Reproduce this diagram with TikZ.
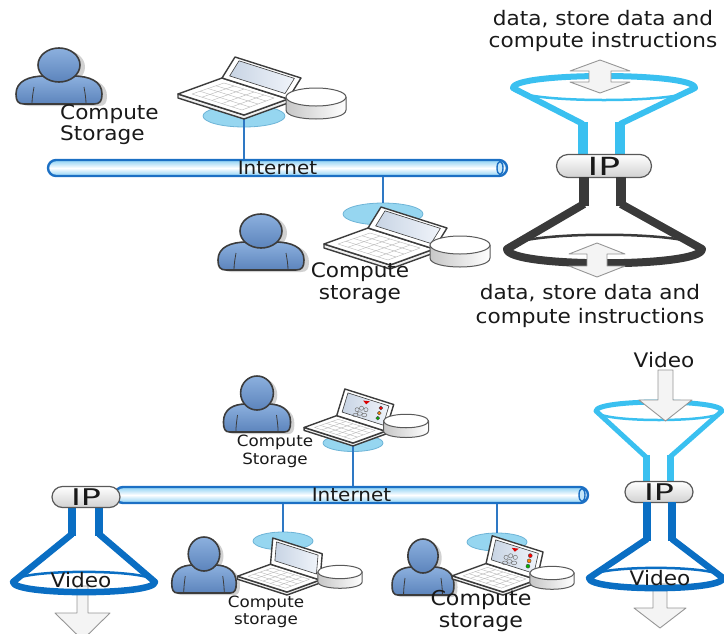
\documentclass[tikz,border=0pt]{standalone}
\usepackage{fontspec}
\setmainfont{DejaVu Sans}[FakeStretch=1.08]
\newfontfamily\ipfont{DejaVu Sans}[FakeStretch=1.45]
\usetikzlibrary{calc,shapes.misc,shapes.geometric}

\definecolor{txt}{RGB}{25,25,25}
\definecolor{netblue}{RGB}{28,112,196}
\definecolor{netfill}{RGB}{140,208,244}
\definecolor{linkblue}{RGB}{46,120,196}
\definecolor{puckfill}{RGB}{150,214,240}
\definecolor{puckline}{RGB}{110,180,215}
\definecolor{funcyan}{RGB}{58,192,240}
\definecolor{fundark}{RGB}{58,58,58}
\definecolor{funblue}{RGB}{10,110,195}
\definecolor{personlight}{RGB}{140,176,222}
\definecolor{persondark}{RGB}{92,132,188}
\definecolor{outline}{RGB}{60,60,60}
\definecolor{arrowfill}{RGB}{244,244,244}
\definecolor{arrowline}{RGB}{150,150,150}
\definecolor{dispdark}{RGB}{200,212,228}
\definecolor{displight}{RGB}{240,244,250}

\tikzset{
  lapline/.style={draw=outline, line width=1.4},
  keyline/.style={draw=black!28, line width=.4},
  % laptop: origin at the front corner of the deck, #1/#2 = screen edge vector
  pics/laptop/.style 2 args={code={
    \filldraw[lapline, fill=black!6] (-66,-21) -- (-66,-17) -- (0,4) -- (44,-12) -- (44,-16) -- (0,0) -- cycle;
    \filldraw[lapline, fill=white] (-66,-21) -- (0,0) -- (44,-16) -- (-22,-37) -- cycle;
    \draw[keyline] (-52,-21) -- (-2,-5) -- (30,-17) -- (-20,-32) -- cycle;
    \foreach \t in {0.25,0.5,0.75}
      \draw[keyline] ($(-52,-21)!\t!(-20,-32)$) -- ($(-2,-5)!\t!(30,-17)$);
    \foreach \t in {0.2,0.4,0.6,0.8}
      \draw[keyline] ($(-52,-21)!\t!(-2,-5)$) -- ($(-20,-32)!\t!(30,-17)$);
    \filldraw[lapline, fill=white] (-22,-37) -- (44,-16) -- ++(#1,#2) -- ++(-66,-21) -- cycle;
    \shadedraw[left color=dispdark, right color=displight, draw=outline, line width=.6]
      ($(-16.7,-35.3)+0.18*(#1,#2)$) -- ($(38.7,-17.7)+0.18*(#1,#2)$)
      -- ($(38.7,-17.7)+0.9*(#1,#2)$) -- ($(-16.7,-35.3)+0.9*(#1,#2)$) -- cycle;
  }},
  % desktop icons on the display of a laptop
  pics/lapicons/.style 2 args={code={
    \fill[red!85!black] ($(5,-28.5)+0.8*(#1,#2)$) -- ++(9,1) -- ++(-5,4) -- cycle;
    \foreach \dx/\dy in {-6/1,0/-1,6/1}
      \draw[black!55, line width=.5] ($(6,-28)+0.5*(#1,#2)+(\dx,\dy)$) circle [radius=2.8];
    \foreach \dx/\dy in {-6/1,0/-1,6/1}
      \draw[black!55, line width=.5] ($(6,-28)+0.3*(#1,#2)+(\dx,\dy)$) circle [x radius=3.6, y radius=2.4];
    \foreach \f/\c in {0.74/red, 0.55/orange, 0.36/green!70!black}
      \filldraw[draw=black!70, fill=\c, line width=.4] ($(29.5,-20.6)+\f*(#1,#2)$) circle [radius=2.6];
  }},
  % storage disk, top ellipse centred at the origin
  pics/disk/.style={code={
    \shadedraw[left color=black!22, right color=white, draw=outline!85, line width=1]
      (-30,0) -- (-30,13) .. controls (-30,25) and (30,25) .. (30,13) -- (30,0) -- cycle;
    \filldraw[fill=white, draw=outline!85, line width=1] (0,0) ellipse [x radius=30, y radius=9];
  }},
  % user figure, head centred at the origin
  pics/person/.style={code={
    \begin{scope}[shift={(5,2)}]
      \fill[black!18] (-35,39) .. controls (-41,39) and (-43,36) .. (-43,29)
        .. controls (-43,16) and (-30,11) .. (-14,11) -- (14,11)
        .. controls (30,11) and (43,16) .. (43,29) .. controls (43,36) and (41,39) .. (35,39) -- cycle;
      \fill[black!18] (0,0) ellipse [x radius=21, y radius=17];
    \end{scope}
    \shadedraw[top color=personlight, bottom color=persondark, draw=outline, line width=1.6]
      (-35,39) .. controls (-41,39) and (-43,36) .. (-43,29)
      .. controls (-43,16) and (-30,11) .. (-14,11) -- (14,11)
      .. controls (30,11) and (43,16) .. (43,29) .. controls (43,36) and (41,39) .. (35,39) -- cycle;
    \draw[outline, line width=.8] (-25,22) .. controls (-26,28) and (-27,33) .. (-27,39);
    \draw[outline, line width=.8] (25,22) .. controls (26,28) and (27,33) .. (27,39);
    \shadedraw[top color=personlight, bottom color=persondark, draw=outline, line width=1.6]
      (0,0) ellipse [x radius=21, y radius=17];
  }}
}

\begin{document}
\begin{tikzpicture}[x=1pt,y=-1pt,line join=round,
  lbl/.style={inner sep=0, align=center, text=txt},
  pipe/.style={draw=netblue, line width=2.4, rounded corners=8, top color=netfill,
    bottom color=netfill, middle color=white, inner sep=0,
    font=\fontsize{18.5}{18.5}\selectfont, text=txt},
  pipeend/.style={draw=netblue, line width=1.4, fill=netfill!50},
  puck/.style={ellipse, draw=puckline, line width=.8, fill=puckfill, inner sep=0},
  link/.style={linkblue, line width=1.8},
  pill/.style={rounded rectangle, draw=black!65, line width=1.2, top color=white,
    bottom color=black!18, inner sep=0, text=txt},
  blockarrow/.style={fill=arrowfill, draw=arrowline, line width=.9},
]
\useasboundingbox (0,0) rectangle (724,633);

%% ================= upper network =================
\node[pipe, minimum width=459, minimum height=16] (net1) at (277.5,168) {Internet};
\draw[pipeend] (500,168) ellipse [x radius=3, y radius=6.5];

% first workstation
\pic at (59,65) {person};
\node[lbl, anchor=west, align=left, font=\fontsize{20}{21}\selectfont] (u1txt) at (60,125) {Compute\\Storage};
\node[puck, minimum width=82, minimum height=22] (pk1) at (244,116) {};
\draw[link] (pk1.center) -- (pk1.center |- net1.north);
\pic at (244,115) {laptop={13}{-21}};
\pic at (316,97) {disk};

% second workstation
\node[puck, minimum width=80, minimum height=22] (pk2) at (383,214) {};
\draw[link] (net1.south -| pk2.center) -- (pk2.north);
\pic at (261,231) {person};
\pic at (390,265) {laptop={13}{-21}};
\pic at (460,245) {disk};
\node[lbl, font=\fontsize{20}{22}\selectfont] (u2txt) at (360,283) {Compute\\storage};

% IP hourglass: light-blue upper funnel
\draw[funcyan, line width=2.5] (513,88) .. controls (513,104) and (695,104) .. (695,88);
\draw[funcyan, line width=6] (583,124) -- (513,88) .. controls (513,72) and (695,72) .. (695,88) -- (620,124);
\draw[funcyan, line width=9.5] (583,122) -- (583,157) (620,122) -- (620,157);
\node[pill, minimum width=95, minimum height=23, font=\ipfont\fontsize{25}{25}\selectfont] (ip1) at (604,166) {IP};
% dark lower funnel
\draw[fundark, line width=10] (584,177) -- (584,206) (621,177) -- (621,206);
\draw[fundark, line width=2.5] (507,249) .. controls (507,230) and (702,230) .. (702,249);
\draw[fundark, line width=8] (584,204) -- (507,249) .. controls (507,268) and (702,268) .. (702,249) -- (621,204);

% two-way block arrows
\draw[blockarrow] (600,60) -- (630,71) -- (611,71) -- (611,82) -- (630,82) -- (600,93)
  -- (570,82) -- (589,82) -- (589,71) -- (570,71) -- cycle;
\draw[blockarrow] (597,243) -- (625,254) -- (607,254) -- (607,266) -- (625,266) -- (597,277)
  -- (569,266) -- (587,266) -- (587,254) -- (569,254) -- cycle;

\node[lbl, font=\fontsize{20}{22}\selectfont] (topdata) at (603,31) {data, store data and\\compute instructions};
\node[lbl, font=\fontsize{20}{24}\selectfont] (botdata) at (590,306) {data, store data and\\compute instructions};

%% ================= lower network =================
\node[pipe, minimum width=473, minimum height=16] (net2) at (351.5,495) {Internet};
\draw[pipeend] (582,495) ellipse [x radius=3, y radius=6.5];

% workstation above the pipe
\pic[xscale=.78] at (257,393) {person};
\node[lbl, font=\fontsize{15.5}{18}\selectfont] (l1txt) at (275,451) {Compute\\Storage};
\node[puck, minimum width=60, minimum height=17] (pk3) at (353,443) {};
\draw[link] (pk3.center) -- (pk3.center |- net2.north);
\pic[scale=.74] at (353,443) {laptop={11}{-36}};
\pic[scale=.74] at (353,443) {lapicons={11}{-36}};
\pic[scale=.75] at (406,421) {disk};

% workstation below the pipe, left
\node[puck, minimum width=60, minimum height=18] (pk4) at (283,541) {};
\draw[link] (net2.south -| pk4.center) -- (pk4.north);
\pic[xscale=.75] at (204,554) {person};
\pic[scale=.75] at (287,592) {laptop={3}{-35}};
\pic[scale=.74] at (340,572) {disk};
\node[lbl, font=\fontsize{15.5}{17.5}\selectfont] (l2txt) at (266,612) {Compute\\storage};

% workstation below the pipe, right
\node[puck, minimum width=60, minimum height=18] (pk5) at (497,542) {};
\draw[link] (net2.south -| pk5.center) -- (pk5.north);
\pic[xscale=.72] at (423,556) {person};
\pic[scale=.77] at (503,592) {laptop={8}{-36}};
\pic[scale=.77] at (503,592) {lapicons={8}{-36}};
\pic[scale=.74] at (552,573) {disk};
\node[lbl, font=\fontsize{20.5}{22}\selectfont] (l3txt) at (481,611) {Compute\\storage};

% left IP funnel with outgoing video
\draw[blockarrow] (77,586) -- (88,586) -- (88,613) -- (110,613) -- (82.5,640) -- (55,613) -- (77,613) -- cycle;
\draw[funblue, line width=2.5] (13,582) .. controls (13,568.5) and (155,568.5) .. (155,582);
\draw[funblue, line width=6.5] (72,534) -- (13,582) .. controls (13,595.5) and (155,595.5) .. (155,582) -- (99,534);
\draw[funblue, line width=8.5] (72,504) -- (72,536) (99,504) -- (99,536);
\node[pill, minimum width=68, minimum height=21, font=\ipfont\fontsize{23}{23}\selectfont] (ip2) at (86,497) {IP};
\node[lbl, font=\fontsize{20}{20}\selectfont] (vid1) at (81,580) {Video};

% right IP hourglass for video
\node[lbl, font=\fontsize{20}{20}\selectfont] (vid2) at (664,360) {Video};
\draw[funcyan, line width=2.5] (596,411) .. controls (596,423) and (722,423) .. (722,411);
\draw[funcyan, line width=5] (646,457) -- (596,411) .. controls (596,399) and (722,399) .. (722,411) -- (670,457);
\draw[funcyan, line width=7] (646,455) -- (646,484) (670,455) -- (670,484);
\draw[blockarrow] (658,370) -- (673,370) -- (673,400) -- (692,400) -- (665.5,421) -- (639,400) -- (658,400) -- cycle;
\node[pill, minimum width=68, minimum height=21, font=\ipfont\fontsize{23}{23}\selectfont] (ip3) at (659,492) {IP};
\draw[blockarrow] (653,584) -- (667,584) -- (667,608) -- (686,608) -- (660,628) -- (634,608) -- (653,608) -- cycle;
\draw[funblue, line width=8] (647,502) -- (647,541) (672,502) -- (672,541);
\draw[funblue, line width=2.5] (589,578) .. controls (589,564.5) and (723,564.5) .. (723,578);
\draw[funblue, line width=6.5] (647,539) -- (589,578) .. controls (589,591.5) and (723,591.5) .. (723,578) -- (672,539);
\node[lbl, font=\fontsize{20}{20}\selectfont] (vid3) at (660,578) {Video};
\end{tikzpicture}
\end{document}
